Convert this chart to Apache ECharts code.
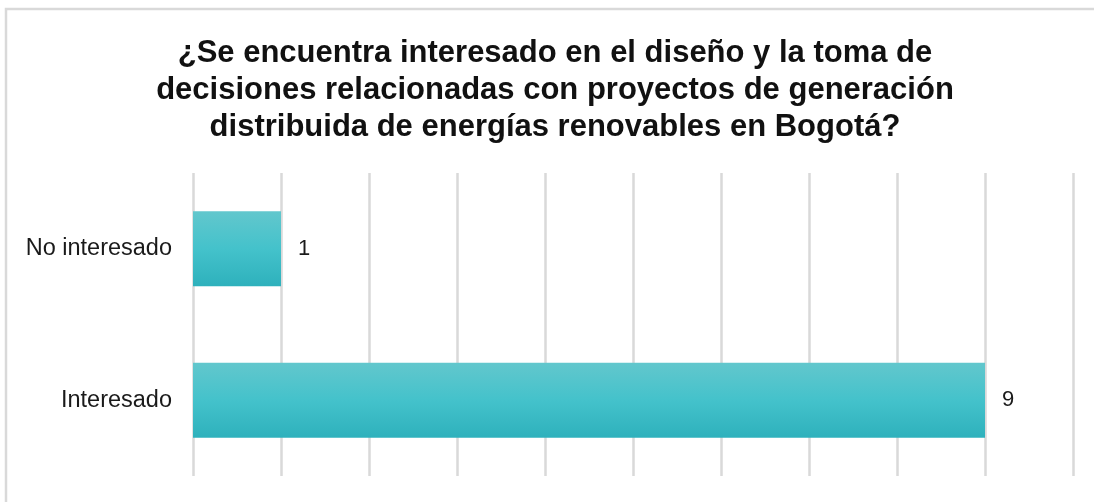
<!DOCTYPE html>
<html>
<head>
<meta charset="utf-8">
<script src="https://cdn.jsdelivr.net/npm/echarts@6/dist/echarts.min.js"></script>
<style>
  html, body { margin: 0; padding: 0; background: #fff; }
  #barChart { width: 1094px; height: 502px; }
</style>
</head>
<body>
<div id="barChart"></div>
<script>
// datos de la encuesta
const categories = ["No interesado", "Interesado"];
const values = [1, 9];
const titleText = "¿Se encuentra interesado en el diseño y la toma de\ndecisiones relacionadas con proyectos de generación\ndistribuida de energías renovables en Bogotá?";

const chart = echarts.init(document.getElementById("barChart"));
const option = {
  backgroundColor: "#fff",
  animation: false,
  title: {
    text: titleText,
    left: 550,
    top: 30,
    textAlign: "center",
    textStyle: {
      fontFamily: "Liberation Sans",
      fontSize: 31,
      fontWeight: "bold",
      lineHeight: 37,
      color: "#111",
    },
  },
  graphic: [
    {
      type: "rect",
      silent: true,
      shape: { x: 6, y: 9, width: 1200, height: 600 },
      style: { fill: "none", stroke: "#d9d9d9", lineWidth: 2.5 },
    },
  ],
  grid: {
    left: 193,
    right: 21,
    top: 173,
    bottom: 26,
  },
  xAxis: {
    type: "value",
    min: 0,
    max: 10,
    interval: 1,
    axisLabel: { show: false },
    axisLine: { show: false },
    axisTick: { show: false },
    splitLine: {
      lineStyle: { color: "#d9d9d9", width: 2.5 }, // líneas verticales
    },
  },
  yAxis: {
    type: "category",
    data: categories,
    inverse: true,
    axisLine: { show: false },
    axisTick: { show: false },
    axisLabel: {
      margin: 21,
      fontFamily: "Liberation Sans",
      fontSize: 23.5,
      color: "#1a1a1a",
    },
  },
  series: [
    {
      type: "bar",
      data: values,
      barWidth: 75,
      itemStyle: {
        color: new echarts.graphic.LinearGradient(0, 0, 0, 1, [
          { offset: 0, color: "#62c7cd" },
          { offset: 0.5, color: "#44c2cb" },
          { offset: 1, color: "#2eb1bc" },
        ]),
      },
      label: {
        show: true,
        position: "right",
        distance: 17,
        fontFamily: "Liberation Sans",
        fontSize: 22,
        color: "#1a1a1a",
      },
    },
  ],
};
chart.setOption(option);
</script>
</body>
</html>
